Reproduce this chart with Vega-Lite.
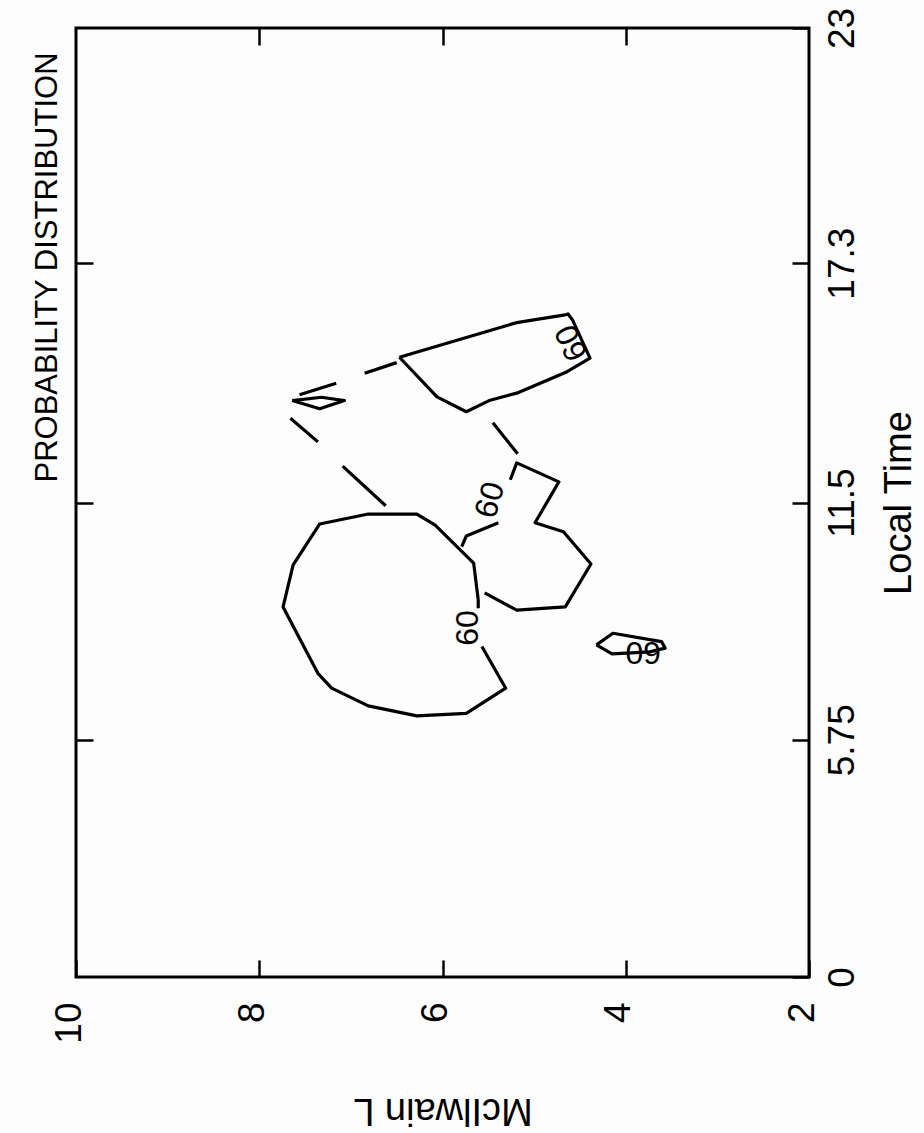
{
  "$schema": "https://vega.github.io/schema/vega-lite/v6.json",
  "width": 733,
  "height": 949,
  "autosize": {"type": "none"},
  "padding": {"left": 76, "top": 28, "right": 115, "bottom": 156},
  "background": "#fdfdfd",
  "config": {
    "view": {"stroke": "black", "strokeWidth": 3},
    "font": "Liberation Sans",
    "text": {"font": "Liberation Sans"}
  },
  "title": {
    "text": "PROBABILITY DISTRIBUTION",
    "orient": "left",
    "anchor": "middle",
    "frame": "group",
    "font": "Liberation Sans",
    "fontSize": 31,
    "fontWeight": "normal",
    "color": "black",
    "baseline": "alphabetic",
    "dx": 235,
    "offset": -38
  },
  "datasets": {
    "lines": [
      {"seg": "A", "i": 0, "L": 6.47, "LT": 15.02},
      {"seg": "A", "i": 1, "L": 5.19, "LT": 15.86},
      {"seg": "A", "i": 2, "L": 4.68, "LT": 16.04},
      {"seg": "A", "i": 3, "L": 4.63, "LT": 16.07},
      {"seg": "A", "i": 4, "L": 4.58, "LT": 15.92},
      {"seg": "A", "i": 5, "L": 4.39, "LT": 15.0},
      {"seg": "A", "i": 6, "L": 4.64, "LT": 14.67},
      {"seg": "A", "i": 7, "L": 5.19, "LT": 14.15},
      {"seg": "A", "i": 8, "L": 5.48, "LT": 13.98},
      {"seg": "A", "i": 9, "L": 5.74, "LT": 13.7},
      {"seg": "A", "i": 10, "L": 6.06, "LT": 14.06},
      {"seg": "A", "i": 11, "L": 6.47, "LT": 15.02},
      {"seg": "D1", "i": 0, "L": 6.85, "LT": 14.63},
      {"seg": "D1", "i": 1, "L": 6.5, "LT": 14.89},
      {"seg": "D2", "i": 0, "L": 7.56, "LT": 14.11},
      {"seg": "D2", "i": 1, "L": 7.16, "LT": 14.39},
      {"seg": "E", "i": 0, "L": 7.64, "LT": 13.97},
      {"seg": "E", "i": 1, "L": 7.32, "LT": 14.05},
      {"seg": "E", "i": 2, "L": 7.07, "LT": 13.97},
      {"seg": "E", "i": 3, "L": 7.34, "LT": 13.77},
      {"seg": "E", "i": 4, "L": 7.64, "LT": 13.97},
      {"seg": "D3", "i": 0, "L": 7.66, "LT": 13.54},
      {"seg": "D3", "i": 1, "L": 7.36, "LT": 12.97},
      {"seg": "D4", "i": 0, "L": 7.09, "LT": 12.38},
      {"seg": "D4", "i": 1, "L": 6.62, "LT": 11.42},
      {"seg": "D5", "i": 0, "L": 5.45, "LT": 13.43},
      {"seg": "D5", "i": 1, "L": 5.18, "LT": 12.68},
      {"seg": "B1", "i": 0, "L": 5.79, "LT": 10.43},
      {"seg": "B1", "i": 1, "L": 5.74, "LT": 10.69},
      {"seg": "B1", "i": 2, "L": 5.39, "LT": 11.01},
      {"seg": "B2", "i": 0, "L": 5.26, "LT": 12.05},
      {"seg": "B2", "i": 1, "L": 5.19, "LT": 12.46},
      {"seg": "B2", "i": 2, "L": 4.73, "LT": 12.0},
      {"seg": "B2", "i": 3, "L": 4.99, "LT": 11.01},
      {"seg": "B2", "i": 4, "L": 4.68, "LT": 10.79},
      {"seg": "B2", "i": 5, "L": 4.38, "LT": 10.01},
      {"seg": "B2", "i": 6, "L": 4.66, "LT": 8.97},
      {"seg": "B2", "i": 7, "L": 5.19, "LT": 8.89},
      {"seg": "B2", "i": 8, "L": 5.54, "LT": 9.31},
      {"seg": "C", "i": 0, "L": 5.57, "LT": 8.01},
      {"seg": "C", "i": 1, "L": 5.31, "LT": 7.0},
      {"seg": "C", "i": 2, "L": 5.74, "LT": 6.39},
      {"seg": "C", "i": 3, "L": 6.28, "LT": 6.33},
      {"seg": "C", "i": 4, "L": 6.81, "LT": 6.57},
      {"seg": "C", "i": 5, "L": 7.21, "LT": 7.0},
      {"seg": "C", "i": 6, "L": 7.36, "LT": 7.36},
      {"seg": "C", "i": 7, "L": 7.74, "LT": 8.97},
      {"seg": "C", "i": 8, "L": 7.63, "LT": 9.99},
      {"seg": "C", "i": 9, "L": 7.34, "LT": 10.98},
      {"seg": "C", "i": 10, "L": 6.81, "LT": 11.22},
      {"seg": "C", "i": 11, "L": 6.28, "LT": 11.22},
      {"seg": "C", "i": 12, "L": 6.08, "LT": 10.95},
      {"seg": "C", "i": 13, "L": 5.66, "LT": 10.03},
      {"seg": "C", "i": 14, "L": 5.61, "LT": 9.14},
      {"seg": "C", "i": 15, "L": 5.61, "LT": 8.94},
      {"seg": "F", "i": 0, "L": 4.32, "LT": 8.05},
      {"seg": "F", "i": 1, "L": 4.14, "LT": 8.33},
      {"seg": "F", "i": 2, "L": 3.61, "LT": 8.13},
      {"seg": "F", "i": 3, "L": 3.57, "LT": 7.97},
      {"seg": "F", "i": 4, "L": 3.74, "LT": 7.88},
      {"seg": "F", "i": 5, "L": 4.15, "LT": 7.83},
      {"seg": "F", "i": 6, "L": 4.32, "LT": 8.05}
    ],
    "labels": [
      {"id": "big", "L": 5.72, "LT": 8.46, "t": "60"},
      {"id": "upper", "L": 4.59, "LT": 15.37, "t": "60"},
      {"id": "mid", "L": 5.48, "LT": 11.56, "t": "60"},
      {"id": "small", "L": 3.81, "LT": 7.88, "t": "60"}
    ]
  },
  "layer": [
    {
      "data": {"name": "lines"},
      "mark": {"type": "line", "color": "black", "strokeWidth": 3.2, "strokeJoin": "round"},
      "encoding": {
        "x": {
          "field": "L", "type": "quantitative",
          "scale": {"domain": [2, 10], "reverse": true, "nice": false, "zero": false},
          "axis": {
            "orient": "bottom", "values": [10, 8, 6, 4, 2],
            "labelExpr": "datum.value + ''",
            "labelAngle": 270, "labelAlign": "right", "labelBaseline": "alphabetic",
            "labelFontSize": 37, "labelColor": "black", "labelFont": "Liberation Sans",
            "labelPadding": 42, "labelFlush": false, "labelOverlap": false,
            "labelOffset": 4,
            "tickSize": -17, "tickWidth": 2.5, "tickColor": "black",
            "domain": false, "grid": false,
            "title": "McIlwain L", "titleAngle": 180, "titleFontSize": 38,
            "titleFont": "Liberation Sans", "titleFontWeight": "normal", "titleColor": "black",
            "titleBaseline": "alphabetic", "titlePadding": 55
          }
        },
        "y": {
          "field": "LT", "type": "quantitative",
          "scale": {"domain": [0, 23], "nice": false, "zero": false},
          "axis": {
            "orient": "right", "values": [0, 5.75, 11.5, 17.3, 23],
            "labelExpr": "datum.value + ''",
            "labelAngle": 270, "labelAlign": "center", "labelBaseline": "top",
            "labelFontSize": 37, "labelColor": "black", "labelFont": "Liberation Sans",
            "labelPadding": 32, "labelFlush": false, "labelOverlap": false,
            "tickSize": -17, "tickWidth": 2.5, "tickColor": "black",
            "domain": false, "grid": false,
            "title": "Local Time", "titleAngle": 270, "titleFontSize": 38,
            "titleFont": "Liberation Sans", "titleFontWeight": "normal", "titleColor": "black",
            "titleBaseline": "alphabetic", "titlePadding": 50
          }
        },
        "detail": {"field": "seg"},
        "order": {"field": "i", "type": "quantitative"}
      }
    },
    {
      "data": {"name": "labels"},
      "transform": [{"filter": "datum.id === 'big'"}],
      "mark": {"type": "text", "angle": 270, "fontSize": 32, "color": "black", "align": "center", "baseline": "middle"},
      "encoding": {
        "x": {"field": "L", "type": "quantitative",
          "axis": {"orient": "top", "values": [8, 6, 4], "labels": false, "title": null,
            "tickSize": -17, "tickWidth": 2.5, "tickColor": "black", "domain": false, "grid": false}},
        "y": {"field": "LT", "type": "quantitative",
          "axis": {"orient": "left", "values": [5.75, 11.5, 17.3], "labels": false, "title": null,
            "tickSize": -17, "tickWidth": 2.5, "tickColor": "black", "domain": false, "grid": false}},
        "text": {"field": "t"}
      }
    },
    {
      "data": {"name": "labels"},
      "transform": [{"filter": "datum.id === 'upper'"}],
      "mark": {"type": "text", "angle": 245, "fontSize": 32, "color": "black", "align": "center", "baseline": "middle"},
      "encoding": {
        "x": {"field": "L", "type": "quantitative", "axis": null},
        "y": {"field": "LT", "type": "quantitative", "axis": null},
        "text": {"field": "t"}
      }
    },
    {
      "data": {"name": "labels"},
      "transform": [{"filter": "datum.id === 'mid'"}],
      "mark": {"type": "text", "angle": 286, "fontSize": 32, "color": "black", "align": "center", "baseline": "middle"},
      "encoding": {
        "x": {"field": "L", "type": "quantitative", "axis": null},
        "y": {"field": "LT", "type": "quantitative", "axis": null},
        "text": {"field": "t"}
      }
    },
    {
      "data": {"name": "labels"},
      "transform": [{"filter": "datum.id === 'small'"}],
      "mark": {"type": "text", "angle": 180, "fontSize": 32, "color": "black", "align": "center", "baseline": "middle"},
      "encoding": {
        "x": {"field": "L", "type": "quantitative", "axis": null},
        "y": {"field": "LT", "type": "quantitative", "axis": null},
        "text": {"field": "t"}
      }
    }
  ],
  "resolve": {"axis": {"x": "independent", "y": "independent"}}
}
